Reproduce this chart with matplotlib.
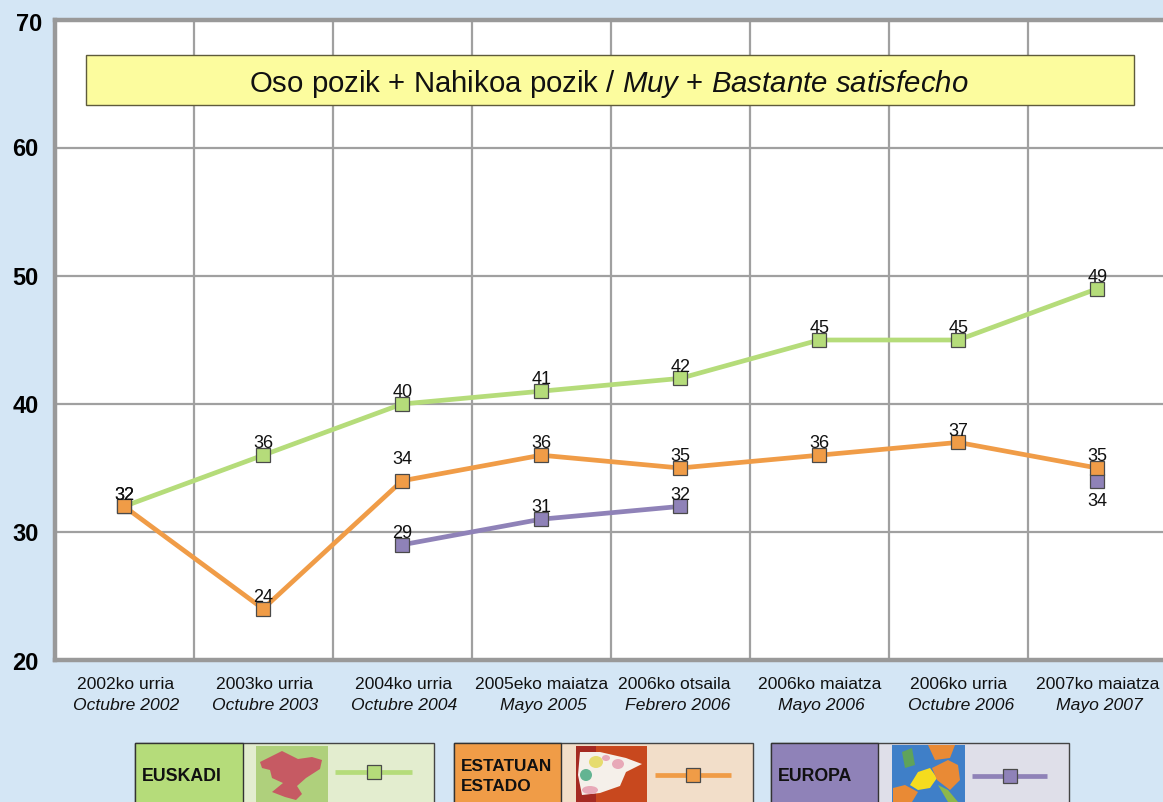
import matplotlib
matplotlib.use("Agg")
import matplotlib.pyplot as plt
from matplotlib.patches import Rectangle, Polygon, Ellipse
from matplotlib.transforms import ScaledTranslation
import numpy as np

plt.rcParams['font.family'] = ['Liberation Sans', 'DejaVu Sans']
plt.rcParams['mathtext.fontset'] = 'custom'
plt.rcParams['mathtext.rm'] = 'Liberation Sans'
plt.rcParams['mathtext.it'] = 'Liberation Sans:italic'

labels_eu = ["2002ko urria", "2003ko urria", "2004ko urria", "2005eko maiatza",
             "2006ko otsaila", "2006ko maiatza", "2006ko urria", "2007ko maiatza"]
labels_es = ["Octubre 2002", "Octubre 2003", "Octubre 2004", "Mayo 2005",
             "Febrero 2006", "Mayo 2006", "Octubre 2006", "Mayo 2007"]
euskadi = [32, 36, 40, 41, 42, 45, 45, 49]
estado = [32, 24, 34, 36, 35, 36, 37, 35]
europa = [np.nan, np.nan, 29, 31, 32, np.nan, np.nan, 34]
yticks = [20, 30, 40, 50, 60, 70]

bg = '#D4E6F5'
green, orange, purple = '#B5DC7A', '#F09C47', '#8F82B8'
grid_c = '#A0A0A0'
W, H = 1163, 802

fig = plt.figure(figsize=(W / 100, H / 100), dpi=100, facecolor=bg)
ax = fig.add_axes([54.6 / W, 1 - 660 / H, 1112 / W, 640 / H])
ax.set_xlim(-0.5, 7.5)
ax.set_ylim(20, 70)

ax.set_xticks(np.arange(0.5, 7.5, 1))
ax.set_xticklabels([])
ax.set_yticks(yticks)
ax.set_yticklabels(map(str, yticks), fontsize=17, fontweight='bold')
ax.tick_params(length=0, pad=11.5)
ax.grid(True, color=grid_c, lw=1.6)
ax.set_axisbelow(True)
for s in ['left', 'top', 'bottom']:
    ax.spines[s].set_color('#999999')
    ax.spines[s].set_linewidth(3.2)
ax.spines['right'].set_visible(False)

# hand nudges for the y labels, in pixels
nudge_y = {20: -1, 30: 0, 40: 0, 50: 0, 60: 1, 70: -2}
for lab, v in zip(ax.get_yticklabels(), yticks):
    dx = 4 if v == 70 else 0
    lab.set_transform(lab.get_transform() + ScaledTranslation(dx / 100, nudge_y[v] / 100, fig.dpi_scale_trans))

# the original labels are not quite centred on their points
eu_dx = [0.8, 0.8, 0.8, 0.3, -4.2, 0.3, 0.0, 0.3]
es_dx = [1.5, 1.5, 1.5, 1.5, -1.8, 1.5, 2.0, 1.5]
for i, (a, b) in enumerate(zip(labels_eu, labels_es)):
    ax.annotate(a, xy=(i, 0), xycoords=('data', 'axes fraction'), xytext=(eu_dx[i], -17.5), textcoords='offset points',
                ha='center', va='center', fontsize=12.6, color='#111111')
    ax.annotate(b, xy=(i, 0), xycoords=('data', 'axes fraction'), xytext=(es_dx[i], -33), textcoords='offset points',
                ha='center', va='center', fontsize=12.6, style='italic', color='#111111')

x = np.arange(8)
for vals, col in [(euskadi, green), (europa, purple), (estado, orange)]:
    ax.plot(x, vals, '-s', color=col, lw=3.4, ms=9.5, mfc=col, mec='#4A4A4A', mew=0.9, clip_on=False)


def put_labels(vals, offs={}):
    for i, v in enumerate(vals):
        if not np.isnan(v):
            ax.annotate(str(v), xy=(i, v), xytext=(0.3, offs.get(i, 8.2)), textcoords='offset points',
                        ha='center', va='center', fontsize=13, color='#111111')


put_labels(euskadi)
put_labels(estado, {2: 15.6})
put_labels(europa, {7: -14.6})

# overlay in pixel coordinates for title box and legend
ov = fig.add_axes([0, 0, 1, 1])
ov.set_xlim(0, W)
ov.set_ylim(H, 0)
ov.axis('off')
ov.patch.set_alpha(0)

ov.add_patch(Rectangle((86, 54.5), 1048, 50, fc='#FCFC9E', ec='#5E5B3C', lw=1))
ov.text(609, 84, r"Oso pozik + Nahikoa pozik / $\mathit{Muy}$ + $\mathit{Bastante\ satisfecho}$",
        ha='center', va='center', fontsize=21.2, color='#111111')


def legend_box(x0, split, x1, col, light, name, lx0, lx1, ly, fs=12.8, top=743):
    ov.add_patch(Rectangle((x0, top), x1 - x0, H - top + 5, fc=light, ec='#444444', lw=1))
    ov.add_patch(Rectangle((x0, top), split - x0, H - top + 5, fc=col, ec='#333333', lw=1))
    ov.text(x0 + 7, 776.5, name, ha='left', va='center', fontsize=fs, fontweight='bold',
            color='#111111', linespacing=1.45)
    ov.plot([lx0, lx1], [ly, ly], color=col, lw=3.4, solid_capstyle='butt')
    ov.plot([(lx0 + lx1) / 2], [ly], 's', ms=9.5, mfc=col, mec='#4A4A4A', mew=0.9)


legend_box(135, 243, 434, green, '#E3EDCF', 'EUSKADI', 335, 412, 772)
legend_box(454, 561, 753, orange, '#F2DEC9', 'ESTATUAN\nESTADO', 655, 731, 775, fs=12.4)
legend_box(771, 878, 1069, purple, '#DFDFE9', 'EUROPA', 972, 1047, 776)

# small map pictures, rough shapes
ov.add_patch(Rectangle((256, 746), 72, 56, fc='#AFD07C', ec='none'))
ov.add_patch(Polygon([(260, 762), (270, 757), (282, 751), (292, 756), (298, 759), (312, 757), (322, 760),
                      (320, 769), (306, 778), (297, 786), (302, 794), (296, 800), (285, 797), (272, 792),
                      (283, 783), (272, 778), (270, 770), (262, 768)], fc='#C65A63', ec='none'))

ov.add_patch(Rectangle((576, 746), 71, 56, fc='#C8481E', ec='none'))
ov.add_patch(Rectangle((576, 746), 20, 56, fc='#A52A22', ec='none'))
ov.add_patch(Polygon([(580, 752), (600, 752), (626, 758), (642, 764), (626, 772), (620, 786), (600, 793),
                      (582, 795), (578, 775)], fc='#F5F0EA', ec='none'))
ov.add_patch(Ellipse((596, 762), 14, 12, fc='#E6DC6E', ec='none'))
ov.add_patch(Ellipse((586, 775), 12, 12, fc='#63B492', ec='none'))
ov.add_patch(Ellipse((618, 764), 12, 10, fc='#E8A9B8', ec='none'))
ov.add_patch(Ellipse((590, 790), 16, 8, fc='#E8A9B8', ec='none'))
ov.add_patch(Ellipse((606, 758), 8, 6, fc='#E8A9B8', ec='none'))

ov.add_patch(Rectangle((892, 745), 73, 57, fc='#3F7FC8', ec='none'))
ov.add_patch(Polygon([(910, 785), (918, 772), (930, 768), (937, 778), (930, 788), (918, 790)], fc='#F5DC1E', ec='none'))
ov.add_patch(Polygon([(932, 768), (948, 760), (958, 765), (960, 780), (950, 790), (937, 780)], fc='#E98A35', ec='none'))
ov.add_patch(Polygon([(893, 788), (905, 785), (918, 792), (912, 802), (893, 802)], fc='#E98A35', ec='none'))
ov.add_patch(Polygon([(902, 752), (912, 748), (915, 765), (905, 768)], fc='#5FA35A', ec='none'))
ov.add_patch(Polygon([(928, 745), (955, 745), (950, 758), (935, 760)], fc='#E98A35', ec='none'))
ov.add_patch(Polygon([(938, 785), (948, 790), (958, 802), (948, 802)], fc='#8DB84A', ec='none'))

fig.savefig('out.png', dpi=100, facecolor=bg)
